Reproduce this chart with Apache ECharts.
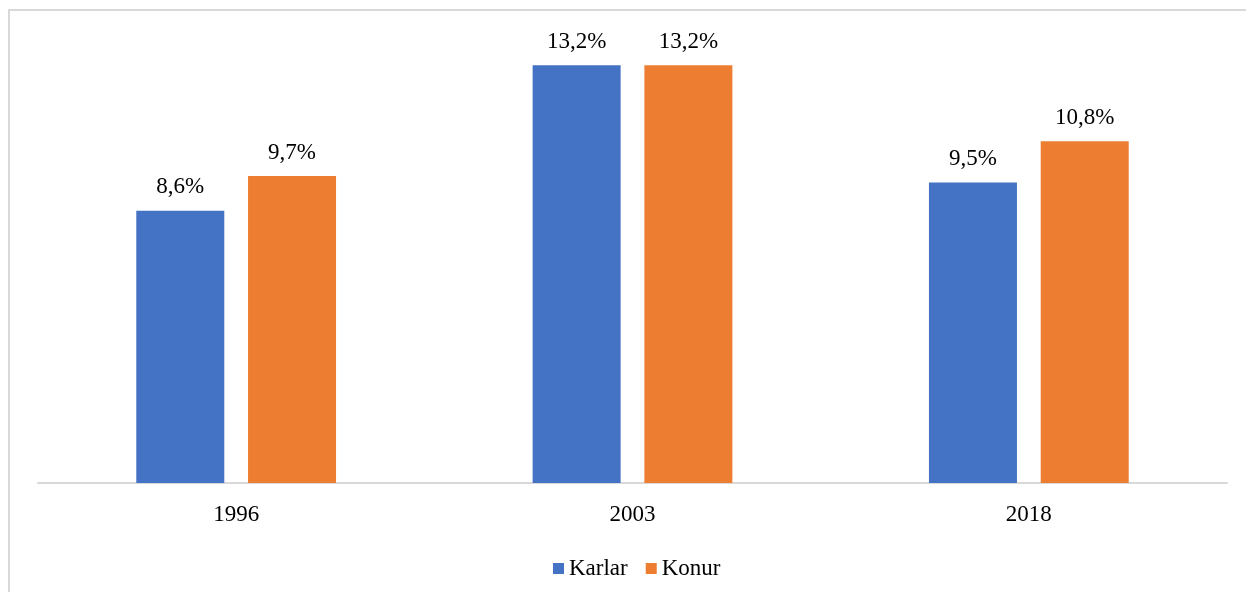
<!DOCTYPE html>
<html>
<head>
<meta charset="utf-8">
<script src="https://cdn.jsdelivr.net/npm/echarts@6/dist/echarts.min.js"></script>
<style>
  html, body { margin: 0; padding: 0; background: #fff; }
  #chart { width: 1246px; height: 592px; }
</style>
</head>
<body>
<div id="chart"></div>
<script>
const years = ['1996', '2003', '2018']
const karlar = [8.6, 13.2, 9.5]
const konur = [9.7, 13.2, 10.8]

const fmt = (p) => p.value.toFixed(1).replace('.', ',') + '%'
const font = '"Liberation Serif", "Times New Roman", serif'

const chart = echarts.init(document.getElementById('chart'))
const labelStyle = {
  show: true,
  position: 'top',
  distance: 12,
  formatter: fmt,
  color: '#000',
  fontFamily: font,
  fontSize: 23
}
chart.setOption({
  animation: false,
  graphic: [{
    type: 'rect',
    shape: { x: 9, y: 10, width: 1400, height: 800 },
    style: { fill: 'none', stroke: '#d9d9d9', lineWidth: 2 }
  }],
  grid: { left: 38, right: 19, top: 40, bottom: 109 },
  legend: {
    left: 548,
    top: 552,
    itemWidth: 11,
    itemHeight: 11,
    itemGap: 18,
    icon: 'rect',
    textStyle: { color: '#000', fontFamily: font, fontSize: 23 },
    data: ['Karlar', 'Konur']
  },
  xAxis: {
    type: 'category',
    data: years,
    axisLine: { lineStyle: { color: '#d9d9d9', width: 2 } },
    axisTick: { show: false },
    axisLabel: { color: '#000', fontFamily: font, fontSize: 23, margin: 20 }
  },
  yAxis: {
    type: 'value',
    min: 0,
    max: 14,
    show: false,
    splitLine: { show: false }
  },
  series: [
    {
      name: 'Karlar',
      type: 'bar',
      data: karlar,
      barWidth: 88,
      barGap: '27%',
      itemStyle: { color: '#4472C4' },
      label: labelStyle
    },
    {
      name: 'Konur',
      type: 'bar',
      data: konur,
      barWidth: 88,
      barGap: '27%',
      itemStyle: { color: '#ED7D31' },
      label: labelStyle
    }
  ]
})
</script>
</body>
</html>
